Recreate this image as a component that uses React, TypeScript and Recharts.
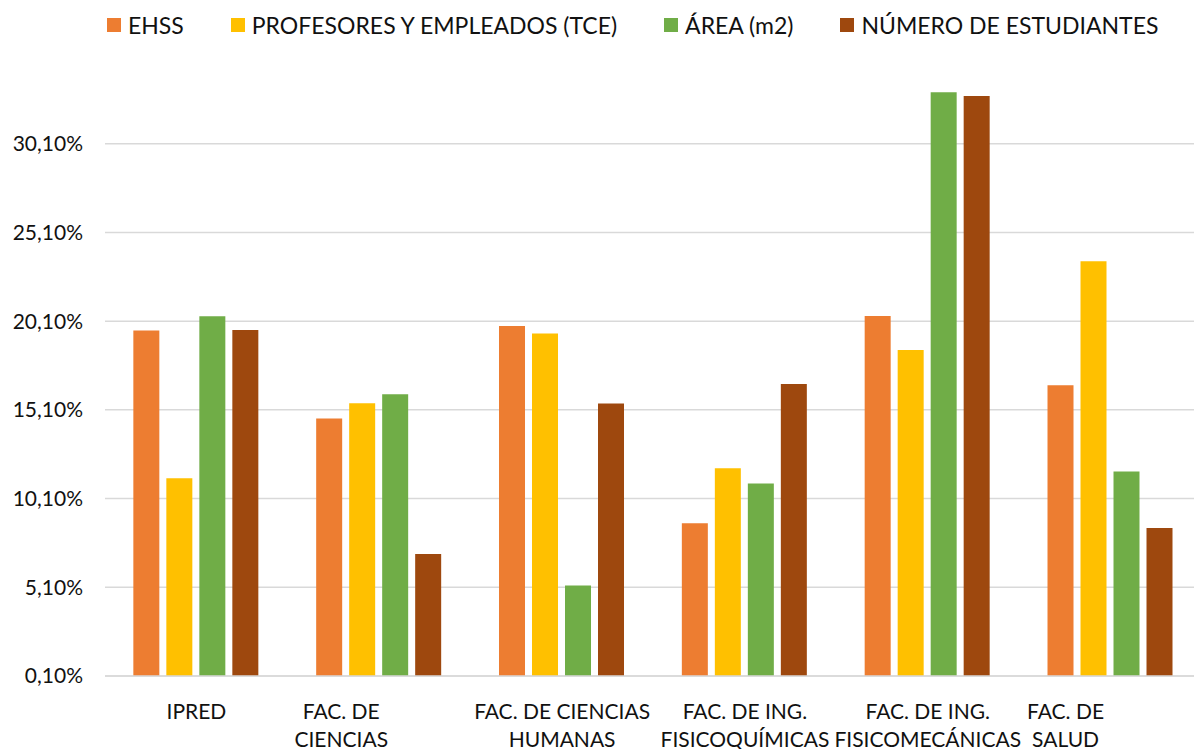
import { BarChart, Bar, XAxis, YAxis, CartesianGrid, Legend } from 'recharts';

const categories = [
  'IPRED',
  'FAC. DE CIENCIAS',
  'FAC. DE CIENCIAS HUMANAS',
  'FAC. DE ING. FISICOQUÍMICAS',
  'FAC. DE ING. FISICOMECÁNICAS',
  'FAC. DE SALUD',
];

// category labels as Excel wrapped them
const categoryLines = [
  ['IPRED'],
  ['FAC. DE', 'CIENCIAS'],
  ['FAC. DE CIENCIAS', 'HUMANAS'],
  ['FAC. DE ING.', 'FISICOQUÍMICAS'],
  ['FAC. DE ING.', 'FISICOMECÁNICAS'],
  ['FAC. DE', 'SALUD'],
];

const ehss = [19.57, 14.61, 19.83, 8.71, 20.39, 16.49];
const profesores = [11.24, 15.47, 19.4, 11.81, 18.48, 23.48];
const area = [20.38, 15.98, 5.2, 10.95, 33.0, 11.62];
const estudiantes = [19.6, 6.98, 15.46, 16.56, 32.79, 8.44];

const yTicks = [0.1, 5.1, 10.1, 15.1, 20.1, 25.1, 30.1];

const series = [
  { key: 'ehss', name: 'EHSS', color: '#ED7D31' },
  { key: 'profesores', name: 'PROFESORES Y EMPLEADOS (TCE)', color: '#FFC000' },
  { key: 'area', name: 'ÁREA (m2)', color: '#70AD47' },
  { key: 'estudiantes', name: 'NÚMERO DE ESTUDIANTES', color: '#9E480E' },
];

const data = categories.map((name, i) => ({
  name,
  ehss: ehss[i],
  profesores: profesores[i],
  area: area[i],
  estudiantes: estudiantes[i],
}));

// Excel pushes some of the short wrapped labels to the left
const labelShift: Record<string, number> = {
  'FAC. DE CIENCIAS': -38,
  'FAC. DE SALUD': -45,
};

const FONT = 'Lato, "Noto Sans", sans-serif';
const TEXT = '#111';

const fmt = (v: number) => v.toFixed(2).replace('.', ',') + '%';

const CategoryTick = (props: any) => {
  const { x, y, payload } = props;
  const idx = categories.indexOf(payload.value);
  const lines = categoryLines[idx] || [payload.value];
  const shift = labelShift[payload.value] || 0;
  return (
    <text x={x + shift} y={y} textAnchor="middle" fill={TEXT} fontSize={21} fontFamily={FONT}>
      {lines.map((l: string, i: number) => (
        <tspan key={i} x={x + shift} dy={i === 0 ? 43 : 28}>
          {l}
        </tspan>
      ))}
    </text>
  );
};

const LegendContent = () => (
  <div style={{ height: 40, display: 'flex', alignItems: 'flex-start', fontFamily: FONT, fontSize: 23, color: TEXT }}>
    {series.map((s, i) => (
      <div key={s.key} style={{ display: 'flex', alignItems: 'center', height: 22, marginLeft: i === 0 ? 0 : 47 }}>
        <span style={{ width: 14, height: 14, background: s.color, marginRight: 7, display: 'inline-block' }} />
        <span style={{ whiteSpace: 'nowrap', lineHeight: '22px' }}>{s.name}</span>
      </div>
    ))}
  </div>
);

export default function App() {
  return (
    <div style={{ position: 'fixed', left: 0, top: 0, width: 1194, height: 749, overflow: 'hidden', background: '#fff' }}>
      <BarChart
        width={1202}
        height={749}
        data={data}
        margin={{ top: 15, right: 0, left: 0, bottom: 13 }}
        barCategoryGap="15.5%"
        barGap={7}
      >
        <CartesianGrid
          vertical={false}
          horizontalValues={yTicks}
          syncWithTicks
          stroke="#D9D9D9"
          strokeWidth={1.5}
        />
        <XAxis
          dataKey="name"
          interval={0}
          height={60}
          tickLine={false}
          tickSize={0}
          tickMargin={0}
          axisLine={{ stroke: '#D9D9D9', strokeWidth: 1.5 }}
          tick={<CategoryTick />}
        />
        <YAxis
          width={105}
          domain={[0.1, 35.1]}
          ticks={yTicks}
          tickFormatter={fmt}
          axisLine={false}
          tickLine={false}
          tickSize={0}
          tickMargin={22}
          tick={{ fill: TEXT, fontSize: 21, fontFamily: FONT }}
        />
        <Legend
          verticalAlign="top"
          align="left"
          content={<LegendContent />}
          wrapperStyle={{ left: 107, top: 14, width: 'auto' }}
        />
        {series.map((s) => (
          <Bar key={s.key} dataKey={s.key} name={s.name} fill={s.color} isAnimationActive={false} />
        ))}
      </BarChart>
    </div>
  );
}
